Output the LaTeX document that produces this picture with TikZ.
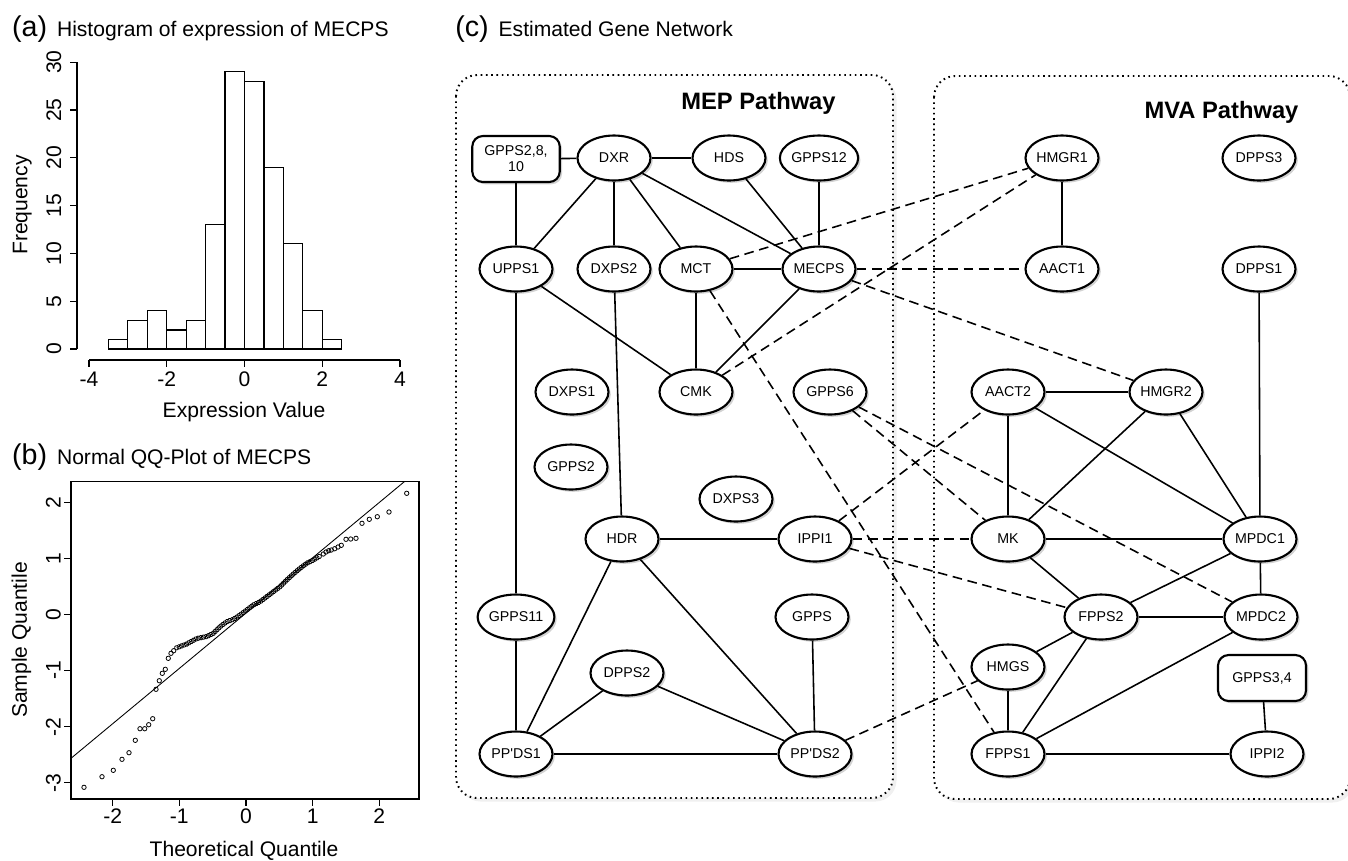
\documentclass[tikz,border=0pt]{standalone}
\usepackage{fontspec}
\setmainfont{Liberation Sans}
\newfontfamily\plainarial{Liberation Sans}
\usetikzlibrary{shapes.geometric,shadows,decorations.markings}
\newcommand\gnfont{\plainarial\fontsize{8.1}{9.2}\selectfont}
\newcommand\axisfont{\fontsize{12}{14}\selectfont}
\newcommand\panelfont{\fontsize{16.3}{19}\selectfont}
\newcommand\pathfont{\bfseries\fontsize{13.5}{16}\selectfont}
\begin{document}
\begin{tikzpicture}[x=0.02cm,y=-0.02cm,
  gene/.style={ellipse,draw,line width=1.2pt,fill=white,minimum width=1.46cm,minimum height=0.9cm,inner sep=0pt,font=\gnfont,
    drop shadow={opacity=0.35,shadow xshift=1.3pt,shadow yshift=-1.3pt}},
  rgene/.style={gene,rectangle,rounded corners=6pt,minimum width=1.75cm,minimum height=0.92cm,align=center},
  sol/.style={line width=0.9pt},
  dsh/.style={line width=0.9pt,dash pattern=on 5.5pt off 3.2pt},
  pathbox/.style={line width=1.1pt,dash pattern=on 0.9pt off 2.1pt,rounded corners=12pt,fill=white,
    drop shadow={opacity=0.12,shadow xshift=2pt,shadow yshift=-2pt}},
  ax/.style={line width=0.7pt},
  qqpt/.style={line width=0.45pt},
  lbl/.style={font=\axisfont,inner sep=0pt}]
\useasboundingbox (0,0) rectangle (1348,860);

% ---------------- (a) histogram ----------------
\node[font=\panelfont,anchor=base west,inner sep=0pt] (pa) at (11.7,36.5) {(a)};
\node[font=\axisfont,anchor=base west,inner sep=0pt] (ta) at (56.7,36.5) {Histogram of expression of MECPS};
\draw[ax] (77,349) -- (77,62.3);
\foreach \f in {0,5,...,30} {
  \draw[ax] (77,{349-9.56*\f}) -- (70,{349-9.56*\f});
  \node[lbl,rotate=90,anchor=base] (hy\f) at (61.2,{349-9.56*\f}) {\f};
}
\draw[ax] (89,360) -- (400,360);
\foreach \v [count=\i] in {-4,-2,0,2,4} {
  \draw[ax] ({244.5+38.9*\v},360) -- ({244.5+38.9*\v},367);
  \node[lbl,anchor=base] (hx\i) at ({244.5+38.9*\v},386.7) {\v};
}
\foreach \a/\c in {-3.5/1,-3/3,-2.5/4,-2/2,-1.5/3,-1/13,-0.5/29,0/28,0.5/19,1/11,1.5/4,2/1}
  \draw[ax] ({244.5+38.9*\a},349) rectangle ({244.5+38.9*(\a+0.5)},{349-9.56*\c});
\node[lbl,rotate=90,anchor=base] (freq) at (27.3,205) {Frequency};
\node[lbl,anchor=base] (expv) at (244,417) {Expression Value};

% ---------------- (b) QQ plot ----------------
\node[font=\panelfont,anchor=base west,inner sep=0pt] (pb) at (11.7,464.3) {(b)};
\node[font=\axisfont,anchor=base west,inner sep=0pt] (tb) at (56.7,464.3) {Normal QQ-Plot of MECPS};
\draw[ax] (71,481.7) rectangle (419,799);
\foreach \t [count=\i] in {-2,-1,0,1,2} {
  \draw[ax] ({246+66.67*\t},799) -- ({246+66.67*\t},806);
  \node[lbl,anchor=base] (qx\i) at ({246+66.67*\t},823.3) {\t};
}
\foreach \s [count=\i] in {-3,-2,-1,0,1,2} {
  \draw[ax] (71,{614.5-56.07*\s}) -- (64,{614.5-56.07*\s});
  \node[lbl,rotate=90,anchor=base] (qy\i) at (60.5,{614.5-56.07*\s}) {\s};
}
\node[lbl,rotate=90,anchor=base] (sq) at (27,640) {Sample Quantile};
\node[lbl,anchor=base] (tq) at (244,856.7) {Theoretical Quantile};
\draw[line width=0.5pt] (71,758.3) -- (404.3,481.7);
\foreach \x/\y in {84/787.3,102/776.7,113.3/770.3,122/759.3,129/752.7,135.3/740.3,140/728.7,144.7/728.7,148.7/724.7,152.7/718.7,
  156/689.3,159.3/680.7,162.3/673.3,165.3/669.3,168.3/658.3,171/653.3,173.7/650.7,
  323.3/554,326/552,328.7/550.7,331.3/550,334.7/548.7,338/547,341.3/545.3,346/539.3,350.7/539,356/538.3,
  362/523.3,369.3/519.3,377.3/516.7,389/512,406.7/493.3}
  \draw[qqpt] (\x,\y) circle (1.25pt);
\path[decoration={markings,mark=between positions 0 and 1 step 1.5pt with {\draw[qqpt] (0,0) circle (1.25pt);}},decorate]
  (176.7,647.7) -- (186.7,644) -- (196.7,638.5) -- (206.7,636.5) -- (213.3,633.3) -- (220,626.7) -- (226.7,621.7)
  -- (233.3,619.3) -- (240,615) -- (246.7,610) -- (253.3,605) -- (260,601.7) -- (266.7,596.7) -- (273.3,591.7)
  -- (280,586.7) -- (286.7,580) -- (293.3,574) -- (300,568.3) -- (306.7,563.3) -- (313.3,560) -- (320,556);

% ---------------- (c) network ----------------
\node[font=\panelfont,anchor=base west,inner sep=0pt] (pc) at (455,36.7) {(c)};
\node[font=\axisfont,anchor=base west,inner sep=0pt] (tc) at (498.3,36.7) {Estimated Gene Network};

\draw[pathbox] (456,75) rectangle (893,798);
\draw[pathbox] (934,76) rectangle (1350,799);
\node[font=\pathfont,inner sep=0pt] (mep) at (758.5,103.5) {MEP Pathway};
\node[font=\pathfont,inner sep=0pt] (mva) at (1221.5,112) {MVA Pathway};

% MEP nodes
\node[rgene] (g2810) at (516,159) {GPPS2,8,\\10};
\node[gene] (dxr) at (614,158) {DXR};
\node[gene] (hds) at (729,158) {HDS};
\node[gene] (gpps12) at (819,158) {GPPS12};
\node[gene] (upps1) at (516,269) {UPPS1};
\node[gene] (dxps2) at (614,269) {DXPS2};
\node[gene] (mct) at (696,269) {MCT};
\node[gene] (mecps) at (819,269) {MECPS};
\node[gene] (dxps1) at (572,392) {DXPS1};
\node[gene] (cmk) at (696,392) {CMK};
\node[gene] (gpps6) at (830,392) {GPPS6};
\node[gene] (gpps2) at (571,467) {GPPS2};
\node[gene] (dxps3) at (736,499) {DXPS3};
\node[gene] (hdr) at (622,539) {HDR};
\node[gene] (ippi1) at (815,539) {IPPI1};
\node[gene] (gpps11) at (516,617) {GPPS11};
\node[gene] (gpps) at (812,617) {GPPS};
\node[gene] (dpps2) at (627,673) {DPPS2};
\node[gene] (ppds1) at (516,754) {PP'DS1};
\node[gene] (ppds2) at (815,754) {PP'DS2};

% MVA nodes
\node[gene] (hmgr1) at (1062,158) {HMGR1};
\node[gene] (dpps3) at (1259,158) {DPPS3};
\node[gene] (aact1) at (1062,269) {AACT1};
\node[gene] (dpps1) at (1259,269) {DPPS1};
\node[gene] (aact2) at (1008,392) {AACT2};
\node[gene] (hmgr2) at (1166,392) {HMGR2};
\node[gene] (mk) at (1008,539) {MK};
\node[gene] (mpdc1) at (1260,539) {MPDC1};
\node[gene] (fpps2) at (1101,617) {FPPS2};
\node[gene] (mpdc2) at (1261,617) {MPDC2};
\node[gene] (hmgs) at (1008,667) {HMGS};
\node[rgene,minimum width=1.76cm] (gpps34) at (1262,678) {GPPS3,4};
\node[gene] (fpps1) at (1008,754) {FPPS1};
\node[gene] (ippi2) at (1267,754) {IPPI2};

% MEP solid edges
\draw[sol] (g2810) -- (dxr);
\draw[sol] (g2810) -- (upps1);
\draw[sol] (dxr) -- (hds);
\draw[sol] (dxr) -- (upps1);
\draw[sol] (dxr) -- (dxps2);
\draw[sol] (dxr) -- (mct);
\draw[sol] (dxr) -- (mecps);
\draw[sol] (hds) -- (mecps);
\draw[sol] (gpps12) -- (mecps);
\draw[sol] (mct) -- (mecps);
\draw[sol] (mct) -- (cmk);
\draw[sol] (mecps) -- (cmk);
\draw[sol] (upps1) -- (cmk);
\draw[sol] (upps1) -- (gpps11);
\draw[sol] (dxps2) -- (hdr);
\draw[sol] (hdr) -- (ippi1);
\draw[sol] (hdr) -- (ppds1);
\draw[sol] (hdr) -- (ppds2);
\draw[sol] (gpps11) -- (ppds1);
\draw[sol] (dpps2) -- (ppds1);
\draw[sol] (dpps2) -- (ppds2);
\draw[sol] (ppds1) -- (ppds2);
\draw[sol] (gpps) -- (ppds2);

% MVA solid edges
\draw[sol] (hmgr1) -- (aact1);
\draw[sol] (dpps1) -- (mpdc1);
\draw[sol] (aact2) -- (hmgr2);
\draw[sol] (aact2) -- (mk);
\draw[sol] (aact2) -- (mpdc1);
\draw[sol] (hmgr2) -- (mk);
\draw[sol] (hmgr2) -- (mpdc1);
\draw[sol] (mk) -- (mpdc1);
\draw[sol] (mk) -- (fpps2);
\draw[sol] (mpdc1) -- (fpps2);
\draw[sol] (mpdc1) -- (mpdc2);
\draw[sol] (fpps2) -- (mpdc2);
\draw[sol] (fpps2) -- (hmgs);
\draw[sol] (fpps2) -- (fpps1);
\draw[sol] (hmgs) -- (fpps1);
\draw[sol] (mpdc2) -- (fpps1);
\draw[sol] (fpps1) -- (ippi2);
\draw[sol] (gpps34) -- (ippi2);

% cross-pathway dashed edges
\draw[dsh] (mct) -- (hmgr1);
\draw[dsh] (cmk) -- (hmgr1);
\draw[dsh] (mecps) -- (aact1);
\draw[dsh] (mecps) -- (hmgr2);
\draw[dsh] (mct) -- (fpps1);
\draw[dsh] (gpps6) -- (mk);
\draw[dsh] (gpps6) -- (mpdc2);
\draw[dsh] (ippi1) -- (aact2);
\draw[dsh] (ippi1) -- (mk);
\draw[dsh] (ippi1) -- (fpps2);
\draw[dsh] (ppds2) -- (hmgs);
\end{tikzpicture}
\end{document}
